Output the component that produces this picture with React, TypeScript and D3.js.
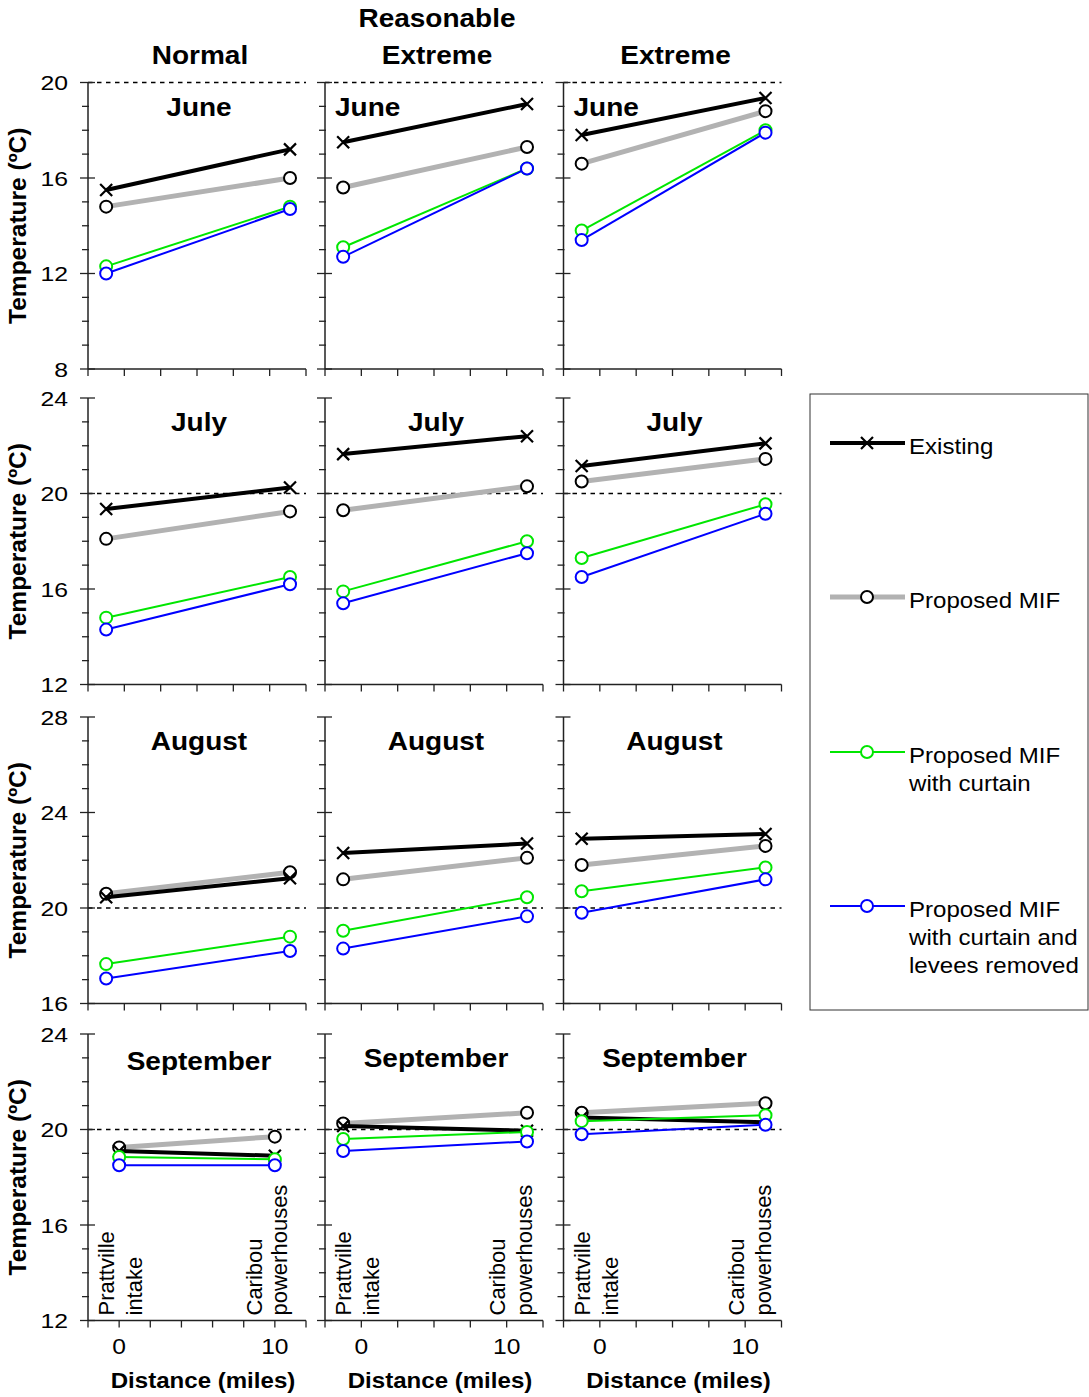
import React from 'react';
import * as d3 from 'd3';

// scenario columns and month rows
const scenarios = [['Normal'], ['Reasonable', 'Extreme'], ['Extreme']];
const months = ['June', 'July', 'August', 'September'];
const yDomains: [number, number][] = [[8, 20], [12, 24], [16, 28], [12, 24]];
const yMajor = 4;

// distance (miles) of the two sites as plotted
const siteMiles = [-1.25, 11.4];
const siteMilesNormalSep = [0, 10];
const xTickLabels = [0, 10];

// temperatures [month][scenario] = [Prattville intake, Caribou powerhouses]
const existing = [
  [[15.5, 17.2], [17.5, 19.1], [17.8, 19.35]],
  [[19.35, 20.25], [21.65, 22.4], [21.15, 22.1]],
  [[20.45, 21.25], [22.3, 22.7], [22.9, 23.1]],
  [[19.1, 18.9], [20.15, 19.95], [20.5, 20.3]],
];
const proposedMIF = [
  [[14.8, 16.0], [15.6, 17.3], [16.6, 18.8]],
  [[18.1, 19.25], [19.3, 20.3], [20.5, 21.45]],
  [[20.6, 21.5], [21.2, 22.1], [21.8, 22.6]],
  [[19.25, 19.7], [20.25, 20.7], [20.7, 21.1]],
];
const withCurtain = [
  [[12.3, 14.8], [13.1, 16.4], [13.8, 18.0]],
  [[14.8, 16.5], [15.9, 18.0], [17.3, 19.55]],
  [[17.65, 18.8], [19.05, 20.45], [20.7, 21.7]],
  [[18.85, 18.75], [19.6, 19.9], [20.35, 20.6]],
];
const leveesRemoved = [
  [[12.0, 14.7], [12.7, 16.4], [13.4, 17.9]],
  [[14.3, 16.2], [15.4, 17.5], [16.5, 19.15]],
  [[17.05, 18.2], [18.3, 19.65], [19.8, 21.2]],
  [[18.5, 18.5], [19.1, 19.5], [19.8, 20.2]],
];

const series = [
  { label: ['Proposed MIF'], data: proposedMIF, color: '#b2b2b2', width: 5, marker: 'o', mColor: '#000' },
  { label: ['Existing'], data: existing, color: '#000', width: 4, marker: 'x', mColor: '#000' },
  { label: ['Proposed MIF', 'with curtain'], data: withCurtain, color: '#00e600', width: 2, marker: 'o', mColor: '#00e600' },
  { label: ['Proposed MIF', 'with curtain and', 'levees removed'], data: leveesRemoved, color: '#0000ff', width: 2, marker: 'o', mColor: '#0000ff' },
];
const legendOrder = [1, 0, 2, 3];

const colLeft = [88, 325, 563.5];
const rowTop = [82.5, 398, 717, 1034];
const panelW = 218;
const panelH = 286.5;
const SX = 1.12;
const font = "'Liberation Sans', Arial, sans-serif";

function Txt({ x, y, size, bold = false, anchor = 'middle', sx = SX, children }: any) {
  return (
    <text transform={`translate(${x},${y}) scale(${sx},1)`} fontSize={size}
      fontWeight={bold ? 'bold' : 'normal'} textAnchor={anchor} fill="#000">{children}</text>
  );
}

function Marker({ type, x, y, color }: any) {
  if (type === 'x') {
    return <path d={`M${x - 6},${y - 6}L${x + 6},${y + 6}M${x - 6},${y + 6}L${x + 6},${y - 6}`} stroke={color} strokeWidth={2.2} />;
  }
  return <circle cx={x} cy={y} r={6} fill="#fff" stroke={color} strokeWidth={2} />;
}

function Panel({ row, col }: { row: number; col: number }) {
  const x0 = colLeft[col];
  const y0 = rowTop[row];
  const narrow = row === 3 && col === 0;
  const xDom = narrow ? [-2, 12] : [-2.5, 12.5];
  const x = d3.scaleLinear().domain(xDom).range([x0, x0 + panelW]);
  const xWide = d3.scaleLinear().domain([-2.5, 12.5]).range([x0, x0 + panelW]);
  const y = d3.scaleLinear().domain(yDomains[row]).range([y0 + panelH, y0]);
  const sites = narrow ? siteMilesNormalSep : siteMiles;
  const xTicks = d3.range(xDom[0], xDom[1] + 0.01, narrow ? 2 : 2.5);
  const yTicks = d3.range(yDomains[row][0], yDomains[row][1] + 0.01, 1);
  const line = d3.line<number>().x((_, i) => x(sites[i])).y((d) => y(d));
  const bottom = y0 + panelH;
  const month = months[row];
  const leftTitle = row === 0 && col > 0;
  const titleY = y0 + (row === 3 && col === 0 ? 36 : 33);

  return (
    <g>
      {/* reference line at 20 ºC */}
      <line x1={x0} x2={x0 + panelW} y1={y(20)} y2={y(20)} stroke="#000" strokeWidth={1.6} strokeDasharray="4.5,4.5" />
      {/* y axis */}
      <line x1={x0} x2={x0} y1={y0} y2={bottom} stroke="#222" strokeWidth={1.5} />
      {yTicks.map((t) => {
        const major = t % yMajor === 0;
        return (
          <g key={t}>
            <line x1={major ? x0 - 8 : x0 - 6} x2={major ? x0 + 7 : x0 + 1} y1={y(t)} y2={y(t)} stroke="#222" strokeWidth={1.3} />
            {major && col === 0 && (
              <Txt x={x0 - 20} y={y(t) + 7.5} size={21} sx={1.18} anchor="end">{t}</Txt>
            )}
          </g>
        );
      })}
      {/* x axis */}
      <line x1={x0} x2={x0 + panelW} y1={bottom} y2={bottom} stroke="#222" strokeWidth={1.5} />
      {xTicks.map((t) => (
        <line key={t} x1={x(t)} x2={x(t)} y1={bottom} y2={bottom + 7} stroke="#222" strokeWidth={1.3} />
      ))}
      {row === 3 && xTickLabels.map((t) => (
        <Txt key={t} x={x(t)} y={bottom + 33} size={22}>{t}</Txt>
      ))}
      {row === 3 && (
        <Txt x={x0 + panelW / 2 + 6} y={bottom + 67} size={21.5} bold>Distance (miles)</Txt>
      )}
      {/* month title */}
      <Txt x={leftTitle ? x0 + 10 : x0 + panelW / 2 + 2} y={titleY} size={25} bold anchor={leftTitle ? 'start' : 'middle'}>{month}</Txt>
      {/* site labels */}
      {row === 3 && (
        <g fontSize={22} fill="#000">
          {[
            [xWide(siteMiles[0]) + 8, 'Prattville'],
            [xWide(siteMiles[0]) + 36, 'intake'],
            [xWide(siteMiles[1]) - (narrow ? 28 : 22), 'Caribou'],
            [xWide(siteMiles[1]) + (narrow ? -3 : 5), 'powerhouses'],
          ].map(([lx, s]: any) => (
            <text key={s} transform={`translate(${lx},${bottom - 5}) rotate(-90)`} textAnchor="start">{s}</text>
          ))}
        </g>
      )}
      {/* series */}
      {series.map((s, si) => {
        const vals = s.data[row][col];
        return (
          <g key={si}>
            <path d={line(vals) || ''} fill="none" stroke={s.color} strokeWidth={s.width} />
            {vals.map((v, i) => (
              <Marker key={i} type={s.marker} x={x(sites[i])} y={y(v)} color={s.mColor} />
            ))}
          </g>
        );
      })}
    </g>
  );
}

function Legend() {
  const lx = 810, ly = 394, lw = 278, lh = 616;
  const rowsY = [443, 597, 752, 906];
  return (
    <g>
      <rect x={lx} y={ly} width={lw} height={lh} fill="#fff" stroke="#333" strokeWidth={1} />
      {legendOrder.map((si, k) => {
        const s = series[si];
        const yy = rowsY[k];
        return (
          <g key={si}>
            <line x1={830} x2={905} y1={yy} y2={yy} stroke={s.color} strokeWidth={s.width} />
            <Marker type={s.marker} x={867} y={yy} color={s.mColor} />
            {s.label.map((t, j) => (
              <Txt key={j} x={909} y={yy + 11 + j * 28} size={21.5} anchor="start">{t}</Txt>
            ))}
          </g>
        );
      })}
    </g>
  );
}

export default function App() {
  return (
    <svg width={1089} height={1397} style={{ position: 'absolute', left: 0, top: 0, background: '#fff' }} fontFamily={font}>
      {scenarios.map((lines, c) => (
        <g key={c}>
          {lines.map((t, j) => (
            <Txt key={j} x={colLeft[c] + panelW / 2 + 3} y={64 - (lines.length - 1 - j) * 37} size={25} bold>{t}</Txt>
          ))}
        </g>
      ))}
      {months.map((m, r) => (
        <text key={m} transform={`translate(26,${rowTop[r] + panelH / 2}) rotate(-90)`} fontSize={24.5} fontWeight="bold" textAnchor="middle">
          Temperature (ºC)
        </text>
      ))}
      {months.map((_, r) => [0, 1, 2].map((c) => <Panel key={`${r}-${c}`} row={r} col={c} />))}
      <Legend />
    </svg>
  );
}
